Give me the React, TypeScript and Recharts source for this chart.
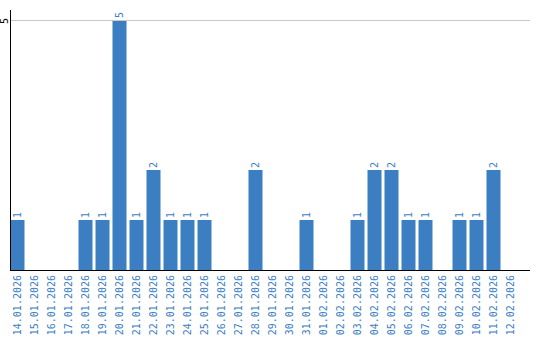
import React from 'react';
import { BarChart, Bar, XAxis, YAxis, ReferenceLine, LabelList } from 'recharts';

// Anzahl pro Tag
const days = [
  '14.01.2026', '15.01.2026', '16.01.2026', '17.01.2026', '18.01.2026', '19.01.2026',
  '20.01.2026', '21.01.2026', '22.01.2026', '23.01.2026', '24.01.2026', '25.01.2026',
  '26.01.2026', '27.01.2026', '28.01.2026', '29.01.2026', '30.01.2026', '31.01.2026',
  '01.02.2026', '02.02.2026', '03.02.2026', '04.02.2026', '05.02.2026', '06.02.2026',
  '07.02.2026', '08.02.2026', '09.02.2026', '10.02.2026', '11.02.2026', '12.02.2026',
];
const counts = [
  1, 0, 0, 0, 1, 1,
  5, 1, 2, 1, 1, 1,
  0, 0, 2, 0, 0, 1,
  0, 0, 1, 2, 2, 1,
  1, 0, 1, 1, 2, 0,
];
const yTicks = [5];

const BLUE = '#3b7ec2';
const MONO = '"DejaVu Sans Mono", monospace';

const data = days.map((d, i) => ({ day: d, count: counts[i] }));

const XTick = (props: any) => {
  const { x, y, payload } = props;
  return (
    <text
      transform={`translate(${x},${y + 3}) rotate(-90)`}
      textAnchor="end"
      dy="0.35em"
      fontSize={10}
      fontFamily={MONO}
      fill={BLUE}
    >
      {payload.value}
    </text>
  );
};

const YTick = (props: any) => {
  const { x, y, payload } = props;
  return (
    <text
      transform={`translate(${x - 4},${y + 1}) rotate(-90)`}
      textAnchor="middle"
      dy="0.35em"
      fontSize={10}
      fontFamily={MONO}
      fill="#000"
    >
      {payload.value}
    </text>
  );
};

const ValueLabel = (props: any) => {
  const { x, y, width, value } = props;
  if (!value) return null;
  return (
    <text
      transform={`translate(${x + width / 2},${y - 2}) rotate(-90)`}
      textAnchor="start"
      dy="0.35em"
      fontSize={10}
      fontFamily={MONO}
      fill={BLUE}
    >
      {value}
    </text>
  );
};

const App: React.FC = () => {
  return (
    <div style={{ position: 'absolute', left: 0, top: 0, width: 540, height: 340, background: '#fff' }}>
      <BarChart
        width={540}
        height={340}
        data={data}
        margin={{ top: 10, right: 10, left: 0, bottom: 0 }}
        barCategoryGap={3}
      >
        <ReferenceLine y={5} stroke="#c8c8c8" shapeRendering="crispEdges" />
        <XAxis
          dataKey="day"
          interval={0}
          height={70}
          tickLine={false}
          tickSize={0}
          tick={<XTick />}
          axisLine={{ stroke: '#000', shapeRendering: 'crispEdges' }}
          padding={{ left: -1.5, right: 11.5 }}
        />
        <YAxis
          width={10}
          domain={[0, 5.2]}
          ticks={yTicks}
          tickLine={false}
          tickSize={0}
          tick={<YTick />}
          axisLine={{ stroke: '#000', shapeRendering: 'crispEdges' }}
        />
        <Bar dataKey="count" fill={BLUE} barSize={14} isAnimationActive={false}>
          <LabelList dataKey="count" content={<ValueLabel />} />
        </Bar>
      </BarChart>
    </div>
  );
};

export default App;
